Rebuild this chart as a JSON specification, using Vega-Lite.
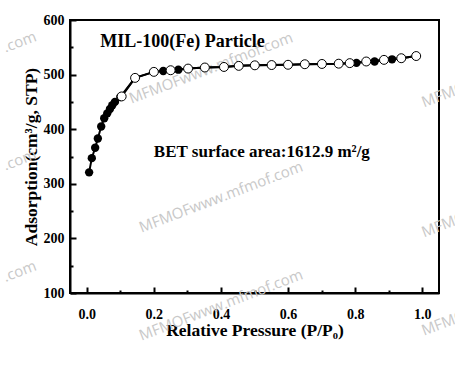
{
  "$schema": "https://vega.github.io/schema/vega-lite/v6.json",
  "width": 369,
  "height": 273,
  "autosize": "none",
  "padding": {"left": 70, "top": 20, "right": 16, "bottom": 86},
  "background": "white",
  "config": {
    "view": {"stroke": "black", "strokeWidth": 2},
    "axis": {
      "domainColor": "black",
      "domainWidth": 2,
      "tickColor": "black",
      "tickWidth": 2,
      "grid": false,
      "labelFont": "Liberation Serif",
      "labelFontWeight": "bold",
      "labelFontSize": 14,
      "labelColor": "black",
      "titleFont": "Liberation Serif",
      "titleFontWeight": "bold",
      "titleFontSize": 17.5,
      "titleColor": "black"
    }
  },
  "datasets": {
    "adsorption": [
      {"p": 0.007, "v": 321}, {"p": 0.015, "v": 347}, {"p": 0.025, "v": 366},
      {"p": 0.033, "v": 383}, {"p": 0.043, "v": 405}, {"p": 0.052, "v": 420},
      {"p": 0.061, "v": 429}, {"p": 0.069, "v": 437}, {"p": 0.076, "v": 444},
      {"p": 0.084, "v": 450}, {"p": 0.1, "v": 459}, {"p": 0.144, "v": 494},
      {"p": 0.2, "v": 505}, {"p": 0.228, "v": 506.5}, {"p": 0.273, "v": 509},
      {"p": 0.302, "v": 511}, {"p": 0.352, "v": 513}, {"p": 0.409, "v": 514},
      {"p": 0.453, "v": 516}, {"p": 0.501, "v": 517}, {"p": 0.551, "v": 517.5},
      {"p": 0.6, "v": 518}, {"p": 0.65, "v": 519}, {"p": 0.701, "v": 519.5},
      {"p": 0.751, "v": 520}, {"p": 0.804, "v": 521.5}, {"p": 0.858, "v": 524},
      {"p": 0.91, "v": 528}, {"p": 0.9375, "v": 530}, {"p": 0.982, "v": 534}
    ],
    "desorption": [
      {"p": 0.982, "v": 534}, {"p": 0.9375, "v": 530}, {"p": 0.886, "v": 527},
      {"p": 0.833, "v": 524}, {"p": 0.784, "v": 521}, {"p": 0.751, "v": 520},
      {"p": 0.701, "v": 519.5}, {"p": 0.65, "v": 519}, {"p": 0.6, "v": 518},
      {"p": 0.551, "v": 517.5}, {"p": 0.501, "v": 517}, {"p": 0.453, "v": 516},
      {"p": 0.409, "v": 514}, {"p": 0.352, "v": 513}, {"p": 0.302, "v": 511},
      {"p": 0.25, "v": 508}, {"p": 0.2, "v": 505}, {"p": 0.144, "v": 494},
      {"p": 0.104, "v": 460}
    ],
    "notes": [
      {"p": 0.04, "v": 560, "label": "MIL-100(Fe) Particle", "s": 18},
      {"p": 0.2, "v": 358, "label": "BET surface area:1612.9 m²/g", "s": 17}
    ],
    "marks": [
      {"p": 0.37, "v": 512, "label": "MFMOFwww.mfmof.com"},
      {"p": 0.4, "v": 276, "label": "MFMOFwww.mfmof.com"},
      {"p": 0.4, "v": 78, "label": "MFMOFwww.mfmof.com"},
      {"p": -0.2, "v": 560, "label": ".com"},
      {"p": -0.2, "v": 344, "label": ".com"},
      {"p": -0.2, "v": 140, "label": ".com"},
      {"p": 1.075, "v": 466, "label": "MFMOF"},
      {"p": 1.075, "v": 228, "label": "MFMOF"},
      {"p": 1.075, "v": 48, "label": "MFMOF"}
    ]
  },
  "encoding": {
    "x": {
      "field": "p", "type": "quantitative",
      "scale": {"domain": [-0.05, 1.05], "nice": false, "zero": false},
      "axis": {
        "values": [0, 0.1, 0.2, 0.3, 0.4, 0.5, 0.6, 0.7, 0.8, 0.9, 1.0],
        "labelExpr": "round(datum.value*10) % 2 == 0 ? format(datum.value, '.1f') : ''",
        "tickSize": {"condition": {"test": "round(datum.value*10) % 2 == 0", "value": -6}, "value": -3},
        "labelPadding": 20,
        "title": "Relative Pressure (P/P₀)",
        "titlePadding": 0
      }
    },
    "y": {
      "field": "v", "type": "quantitative",
      "scale": {"domain": [100, 600], "nice": false, "zero": false},
      "axis": {
        "values": [100, 150, 200, 250, 300, 350, 400, 450, 500, 550, 600],
        "labelExpr": "datum.value % 100 == 0 ? format(datum.value, 'd') : ''",
        "tickSize": {"condition": {"test": "datum.value % 100 == 0", "value": -6}, "value": -3},
        "labelPadding": 12,
        "title": "Adsorption(cm³/g, STP)",
        "titlePadding": 3
      }
    }
  },
  "layer": [
    {
      "data": {"name": "marks"},
      "mark": {"type": "text", "angle": -21, "align": "center", "baseline": "middle", "font": "Open Sans", "fontSize": 15, "color": "#c8c8c8", "clip": false},
      "encoding": {
        "text": {"field": "label"}
      }
    },
    {
      "data": {"name": "adsorption"},
      "mark": {"type": "line", "color": "black", "strokeWidth": 2}
    },
    {
      "data": {"name": "adsorption"},
      "mark": {"type": "point", "filled": true, "color": "black", "size": 70, "opacity": 1}
    },
    {
      "data": {"name": "desorption"},
      "mark": {"type": "line", "color": "black", "strokeWidth": 2},
      "encoding": {"order": {"field": "p", "type": "quantitative"}}
    },
    {
      "data": {"name": "desorption"},
      "mark": {"type": "point", "filled": true, "fill": "white", "stroke": "black", "strokeWidth": 1, "size": 80, "opacity": 1}
    },
    {
      "data": {"name": "notes"},
      "mark": {"type": "text", "align": "left", "baseline": "middle", "font": "Liberation Serif", "fontWeight": "bold", "color": "black"},
      "encoding": {
        "text": {"field": "label"},
        "size": {"field": "s", "type": "quantitative", "scale": null}
      }
    }
  ]
}
